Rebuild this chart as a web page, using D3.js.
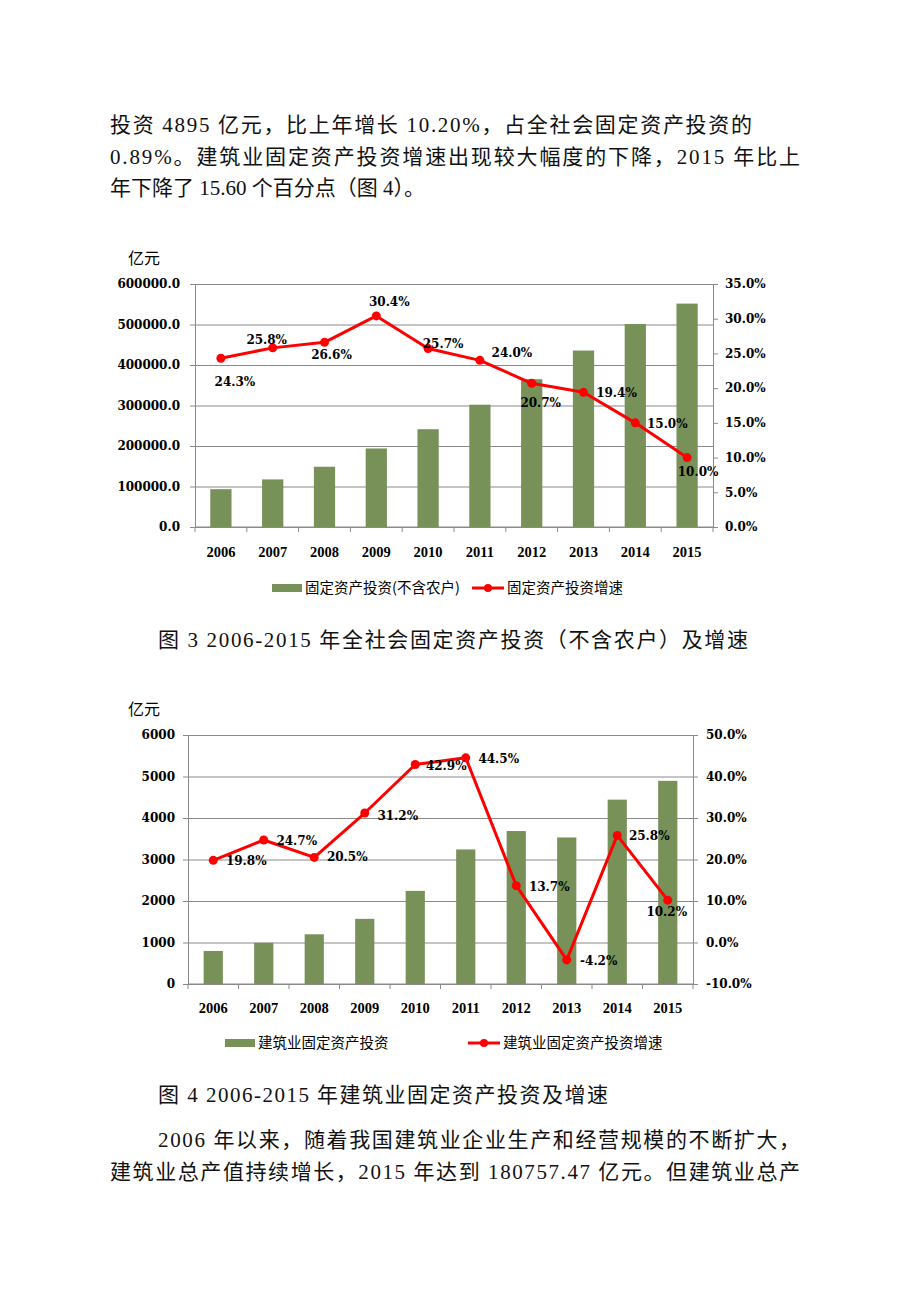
<!DOCTYPE html>
<html>
<head>
<meta charset="utf-8">
<script src="https://cdn.jsdelivr.net/npm/d3@7"></script>
<style>body{margin:0;background:#fff}</style>
</head>
<body>
<svg width="920" height="1302"></svg>
<script>
// data
var years = ["2006", "2007", "2008", "2009", "2010", "2011", "2012", "2013", "2014", "2015"];
var faiValues = [93369, 117464, 148738, 193920, 241431, 301933, 364854, 435747, 501265, 551590];
var faiGrowth = [24.3, 25.8, 26.6, 30.4, 25.7, 24.0, 20.7, 19.4, 15.0, 10.0];
var consValues = [796, 993, 1197, 1570, 2244, 3242, 3686, 3531, 4442, 4895];
var consGrowth = [19.8, 24.7, 20.5, 31.2, 42.9, 44.5, 13.7, -4.2, 25.8, 10.2];

var faiTicks = [0, 100000, 200000, 300000, 400000, 500000, 600000];
var faiRateTicks = [0, 5, 10, 15, 20, 25, 30, 35];
var consTicks = [0, 1000, 2000, 3000, 4000, 5000, 6000];
var consRateTicks = [-10, 0, 10, 20, 30, 40, 50];

var green = "#779159", red = "#ff0000", grid = "#8a8a8a";
var numFont = "'DejaVu Serif', 'Liberation Serif', serif";
var yearFont = "'Liberation Serif', serif";
var cjkFont = "'Noto Sans CJK SC', sans-serif";
var bodyFont = "'Liberation Serif', 'Noto Sans CJK SC', serif";

var svg = d3.select("svg");
svg.append("rect").attr("width", 920).attr("height", 1302).attr("fill", "#fff");

// running text and captions
var textLines = [
  { t: "投资 4895 亿元，比上年增长 10.20%，占全社会固定资产投资的", x: 110, y: 132, w: 642 },
  { t: "0.89%。建筑业固定资产投资增速出现较大幅度的下降，2015 年比上", x: 110, y: 164, w: 690 },
  { t: "年下降了 15.60 个百分点（图 4）。", x: 110, y: 195 },
  { t: "图 3 2006-2015 年全社会固定资产投资（不含农户）及增速", x: 158, y: 647, w: 590 },
  { t: "图 4 2006-2015 年建筑业固定资产投资及增速", x: 158, y: 1102, w: 450 },
  { t: "2006 年以来，随着我国建筑业企业生产和经营规模的不断扩大，", x: 158, y: 1147, w: 642 },
  { t: "建筑业总产值持续增长，2015 年达到 180757.47 亿元。但建筑业总产", x: 110, y: 1179, w: 690 }
];

textLines.forEach(function(l) {
  var t = svg.append("text")
      .attr("x", l.x).attr("y", l.y)
      .attr("font-family", bodyFont).attr("font-size", 21)
      .attr("fill", "#111")
      .text(l.t);
  if (l.w) t.attr("textLength", l.w).attr("lengthAdjust", "spacing");
});

function styleNums(a) {
  a.selectAll("text")
      .attr("font-family", numFont).attr("font-weight", "bold")
      .attr("font-size", 12).attr("fill", "#000");
}

function drawChart(c) {
  var g = svg.append("g");
  var w = c.right - c.left;

  var x = d3.scaleBand().domain(years)
      .range([c.left, c.right])
      .paddingInner(c.pad).paddingOuter(c.pad / 2);
  var y = d3.scaleLinear().domain(d3.extent(c.ticks)).range([c.bottom, c.top]);
  var y2 = d3.scaleLinear().domain(d3.extent(c.rateTicks)).range([c.bottom, c.top]);
  var cx = d => x(d) + x.bandwidth() / 2;

  // gridlines
  g.append("g")
      .attr("transform", "translate(" + c.left + ",0)")
      .call(d3.axisLeft(y).tickValues(c.ticks).tickSize(-w).tickFormat(""))
      .call(a => a.select(".domain").remove())
      .selectAll("line").attr("stroke", grid);

  // left axis
  g.append("g")
      .attr("transform", "translate(" + c.left + ",0)")
      .call(d3.axisLeft(y).tickValues(c.ticks).tickSize(5).tickPadding(c.padL).tickFormat(c.fmt))
      .call(a => a.select(".domain").attr("stroke", grid))
      .call(a => a.selectAll("line").attr("stroke", grid))
      .call(styleNums);

  // right axis
  g.append("g")
      .attr("transform", "translate(" + c.right + ",0)")
      .call(d3.axisRight(y2).tickValues(c.rateTicks).tickSize(5).tickPadding(c.padR)
          .tickFormat(d => d.toFixed(1) + "%"))
      .call(a => a.select(".domain").attr("stroke", grid))
      .call(a => a.selectAll("line").attr("stroke", grid))
      .call(styleNums);

  // bottom axis: ticks on category boundaries
  var edges = d3.range(years.length + 1).map(i => c.left + i * x.step());
  g.append("line")
      .attr("x1", c.left).attr("x2", c.right)
      .attr("y1", c.bottom).attr("y2", c.bottom)
      .attr("stroke", grid);
  g.selectAll(".edge").data(edges).join("line")
      .attr("x1", d => d).attr("x2", d => d)
      .attr("y1", c.bottom).attr("y2", c.bottom + 5)
      .attr("stroke", grid);
  g.selectAll(".year").data(years).join("text")
      .attr("x", cx).attr("y", c.bottom + c.yearDy)
      .attr("text-anchor", "middle")
      .attr("font-family", yearFont).attr("font-weight", "bold")
      .attr("font-size", 14.5)
      .text(d => d);

  // bars
  g.selectAll(".bar").data(c.values).join("rect")
      .attr("x", (d, i) => x(years[i]))
      .attr("width", x.bandwidth())
      .attr("y", d => y(d))
      .attr("height", d => c.bottom - y(d))
      .attr("fill", green);

  // growth line
  var line = d3.line()
      .x((d, i) => cx(years[i]))
      .y(d => y2(d));
  g.append("path").datum(c.rates)
      .attr("d", line)
      .attr("fill", "none").attr("stroke", red)
      .attr("stroke-width", 3).attr("stroke-linejoin", "round");
  g.selectAll(".pt").data(c.rates).join("circle")
      .attr("cx", (d, i) => cx(years[i]))
      .attr("cy", d => y2(d))
      .attr("r", 4.5).attr("fill", red);

  // data labels, offset from their points
  g.selectAll(".lbl").data(c.rates).join("text")
      .attr("x", (d, i) => cx(years[i]) + c.lblPos[i][0])
      .attr("y", (d, i) => y2(d) + c.lblPos[i][1] + 4)
      .attr("text-anchor", "middle")
      .attr("font-family", numFont).attr("font-weight", "bold")
      .attr("font-size", 12)
      .text(d => d.toFixed(1) + "%");

  // unit
  g.append("text")
      .attr("x", 128).attr("y", c.top - 20)
      .attr("font-family", cjkFont).attr("font-size", 16)
      .text("亿元");

  // legend
  var ly = c.legendY;
  g.append("rect")
      .attr("x", c.leg[0]).attr("y", ly - 4)
      .attr("width", 30).attr("height", 8)
      .attr("fill", green);
  g.append("text")
      .attr("x", c.leg[0] + 33).attr("y", ly + 5)
      .attr("font-family", cjkFont).attr("font-size", 14.5)
      .text(c.names[0]);
  g.append("line")
      .attr("x1", c.leg[1]).attr("x2", c.leg[1] + 32)
      .attr("y1", ly).attr("y2", ly)
      .attr("stroke", red).attr("stroke-width", 3);
  g.append("circle")
      .attr("cx", c.leg[1] + 16).attr("cy", ly).attr("r", 4).attr("fill", red);
  g.append("text")
      .attr("x", c.leg[1] + 35).attr("y", ly + 5)
      .attr("font-family", cjkFont).attr("font-size", 14.5)
      .text(c.names[1]);
}

drawChart({
  left: 195, right: 713, top: 284, bottom: 527, pad: 0.59,
  values: faiValues, rates: faiGrowth,
  ticks: faiTicks, rateTicks: faiRateTicks,
  fmt: d3.format(".1f"), padL: 10, padR: 7, yearDy: 30,
  lblPos: [[14, 24], [-6, -8], [7, 13], [13, -14], [15, -5], [32, -7], [9, 20], [33, 1], [32, 1], [11, 14]],
  legendY: 588, leg: [272, 472],
  names: ["固定资产投资(不含农户)", "固定资产投资增速"]
});

drawChart({
  left: 188, right: 693, top: 735, bottom: 984, pad: 0.62,
  values: consValues, rates: consGrowth,
  ticks: consTicks, rateTicks: consRateTicks,
  fmt: d3.format("d"), padL: 8, padR: 8, yearDy: 29,
  lblPos: [[33, 1], [33, 1], [33, 0], [33, 3], [31, 2], [33, 1], [33, 1], [32, 1], [32, 1], [-1, 12]],
  legendY: 1043, leg: [225, 468],
  names: ["建筑业固定资产投资", "建筑业固定资产投资增速"]
});
</script>
</body>
</html>
